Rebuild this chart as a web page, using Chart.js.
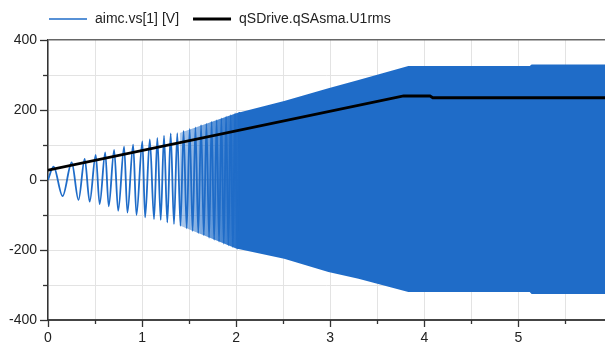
<!DOCTYPE html>
<html>
<head>
<meta charset="utf-8">
<script src="https://cdn.jsdelivr.net/npm/chart.js@4/dist/chart.umd.min.js"></script>
<style>
html,body{margin:0;padding:0;background:#fff;}
canvas{display:block;}
</style>
</head>
<body>
<canvas id="c" width="605" height="345"></canvas>
<script>
// ---- data ----
const seriesNames = ["aimc.vs[1] [V]", "qSDrive.qSAsma.U1rms"];
// early part of aimc.vs[1]: extrema that can be told apart (time s, value V)
const waveT = [0, 0.059, 0.155, 0.252, 0.324, 0.390, 0.443, 0.507, 0.549, 0.608, 0.645, 0.703, 0.746, 0.809, 0.844, 0.905, 0.940, 1.003, 1.032, 1.082, 1.127, 1.162, 1.198, 1.233, 1.268, 1.304, 1.339, 1.374, 1.408, 1.441, 1.474, 1.506, 1.537, 1.567, 1.597, 1.627, 1.656, 1.684, 1.712, 1.739, 1.766, 1.792, 1.818, 1.843, 1.868, 1.893, 1.917, 1.942, 1.965, 1.988, 2.012, 2.035];
const waveV = [0, 38, -46, 50, -57, 60, -62, 72, -69, 79, -75, 86, -88, 95, -93, 101, -100, 110, -107, 116, -112, 120, -114, 127, -121, 133, -126, 134, -131, 140, -138, 146, -146, 150, -152, 157, -158, 161, -165, 167, -171, 171, -176, 176, -182, 181, -187, 185, -192, 190, -197, 194];
// later part of aimc.vs[1]: oscillation too dense to separate -> upper / lower envelope
const envT  = [1.40, 2.0, 2.51, 2.98, 3.30, 3.48, 3.83, 5.12, 5.14, 5.92];
const envHi = [134, 191, 226, 262, 286, 299, 326, 326, 330, 330];
const envLo = [-130, -196, -225, -263, -282, -295, -320, -320, -326, -326];
// qSDrive.qSAsma.U1rms
const rmsT = [0, 3.78, 4.06, 4.09, 5.92];
const rmsV = [28, 240, 240, 235, 235];
// axes
const xMin = 0, xMax = 5.92, xStep = 0.5, xLabelEvery = 1;
const yMin = -400, yMax = 400, yStep = 100, yLabelEvery = 200;

const BLUE = '#1f6cc8';
const pts = (xs, ys) => xs.map((x, i) => ({x: x, y: ys[i]}));

Chart.defaults.font.family = "'Liberation Sans', Arial, sans-serif";
Chart.defaults.font.size = 14;
Chart.defaults.color = '#222';

const tickMarks = {
  id: 'tickMarks',
  afterDraw(chart) {
    const ctx = chart.ctx, xs = chart.scales.x, ys = chart.scales.y, a = chart.chartArea;
    ctx.save();
    ctx.strokeStyle = '#333';
    ctx.lineWidth = 1.3;
    ys.ticks.forEach(t => {
      const p = Math.round(ys.getPixelForValue(t.value)) + 0.5;
      const len = (Math.abs(t.value % yLabelEvery) < 1e-6) ? 8 : 5;
      ctx.beginPath(); ctx.moveTo(a.left - len, p); ctx.lineTo(a.left, p); ctx.stroke();
    });
    xs.ticks.forEach(t => {
      const p = Math.round(xs.getPixelForValue(t.value)) + 0.5;
      const r = t.value / xLabelEvery;
      const len = (Math.abs(r - Math.round(r)) < 1e-6) ? 7 : 4;
      ctx.beginPath(); ctx.moveTo(p, a.bottom); ctx.lineTo(p, a.bottom + len); ctx.stroke();
    });
    ctx.restore();
  }
};

const legendPlugin = {
  id: 'customLegend',
  afterDraw(chart) {
    const ctx = chart.ctx;
    const items = [
      {text: seriesNames[0], color: BLUE, w: 1.5},
      {text: seriesNames[1], color: '#000', w: 3}
    ];
    ctx.save();
    ctx.font = "14px 'Liberation Sans', Arial, sans-serif";
    ctx.textBaseline = 'middle';
    let x = 49; const y = 19;
    items.forEach(it => {
      ctx.strokeStyle = it.color; ctx.lineWidth = it.w;
      ctx.beginPath(); ctx.moveTo(x, y); ctx.lineTo(x + 38, y); ctx.stroke();
      ctx.fillStyle = '#222';
      ctx.fillText(it.text, x + 46, y);
      x += 46 + ctx.measureText(it.text).width + 14;
    });
    ctx.restore();
  }
};

function bandFill(c) {
  const chart = c.chart;
  if (!chart.chartArea || !chart.scales.x) return BLUE;
  const xs = chart.scales.x;
  const g = chart.ctx.createLinearGradient(xs.getPixelForValue(1.40), 0, xs.getPixelForValue(2.03), 0);
  g.addColorStop(0, 'rgba(31,108,200,0.35)');
  g.addColorStop(1, BLUE);
  return g;
}

new Chart(document.getElementById('c'), {
  type: 'line',
  data: {
    datasets: [
      {label: seriesNames[1], data: pts(rmsT, rmsV), borderColor: '#000', borderWidth: 2.8,
       pointRadius: 0, fill: false, order: 0},
      {label: seriesNames[0], data: pts(waveT, waveV), borderColor: BLUE, borderWidth: 1.8,
       pointRadius: 0, fill: false, cubicInterpolationMode: 'monotone', order: 1},
      {label: 'envHi', data: pts(envT, envHi), borderColor: 'rgba(0,0,0,0)', borderWidth: 0,
       backgroundColor: bandFill, pointRadius: 0, fill: '+1', order: 2},
      {label: 'envLo', data: pts(envT, envLo), borderColor: 'rgba(0,0,0,0)', borderWidth: 0,
       pointRadius: 0, fill: false, order: 2}
    ]
  },
  options: {
    responsive: false,
    animation: false,
    devicePixelRatio: 1,
    layout: {padding: {top: 40, left: 0, right: 0, bottom: 0}},
    plugins: {legend: {display: false}, tooltip: {enabled: false}},
    scales: {
      x: {
        type: 'linear', min: xMin, max: xMax,
        afterFit: s => { s.height = 25; },
        afterBuildTicks: s => {
          const t = [];
          for (let v = xMin; v <= xMax + 1e-9; v += xStep) t.push({value: Math.round(v * 1000) / 1000});
          s.ticks = t;
        },
        ticks: {
          padding: 10, maxRotation: 0, autoSkip: false, color: '#222',
          callback: v => { const r = v / xLabelEvery; return Math.abs(r - Math.round(r)) < 1e-6 ? String(v) : ''; }
        },
        grid: {color: '#e3e3e3', lineWidth: 1, drawTicks: false},
        border: {display: true, color: '#444', width: 2}
      },
      y: {
        type: 'linear', min: yMin, max: yMax,
        afterFit: s => { s.width = 48; },
        afterBuildTicks: s => {
          const t = [];
          for (let v = yMin; v <= yMax; v += yStep) t.push({value: v});
          s.ticks = t;
        },
        ticks: {
          padding: 11, autoSkip: false, color: '#222',
          callback: v => (Math.abs(v % yLabelEvery) < 1e-6 ? String(v) : '')
        },
        grid: {
          drawTicks: false,
          color: c => (c.tick && c.tick.value === yMax) ? '#666' : (c.tick && c.tick.value === 0 ? '#c9c9c9' : '#e3e3e3'),
          lineWidth: c => (c.tick && (c.tick.value === yMax || c.tick.value === 0)) ? 1.5 : 1
        },
        border: {display: true, color: '#333', width: 1.5}
      }
    }
  },
  plugins: [tickMarks, legendPlugin]
});
</script>
</body>
</html>
